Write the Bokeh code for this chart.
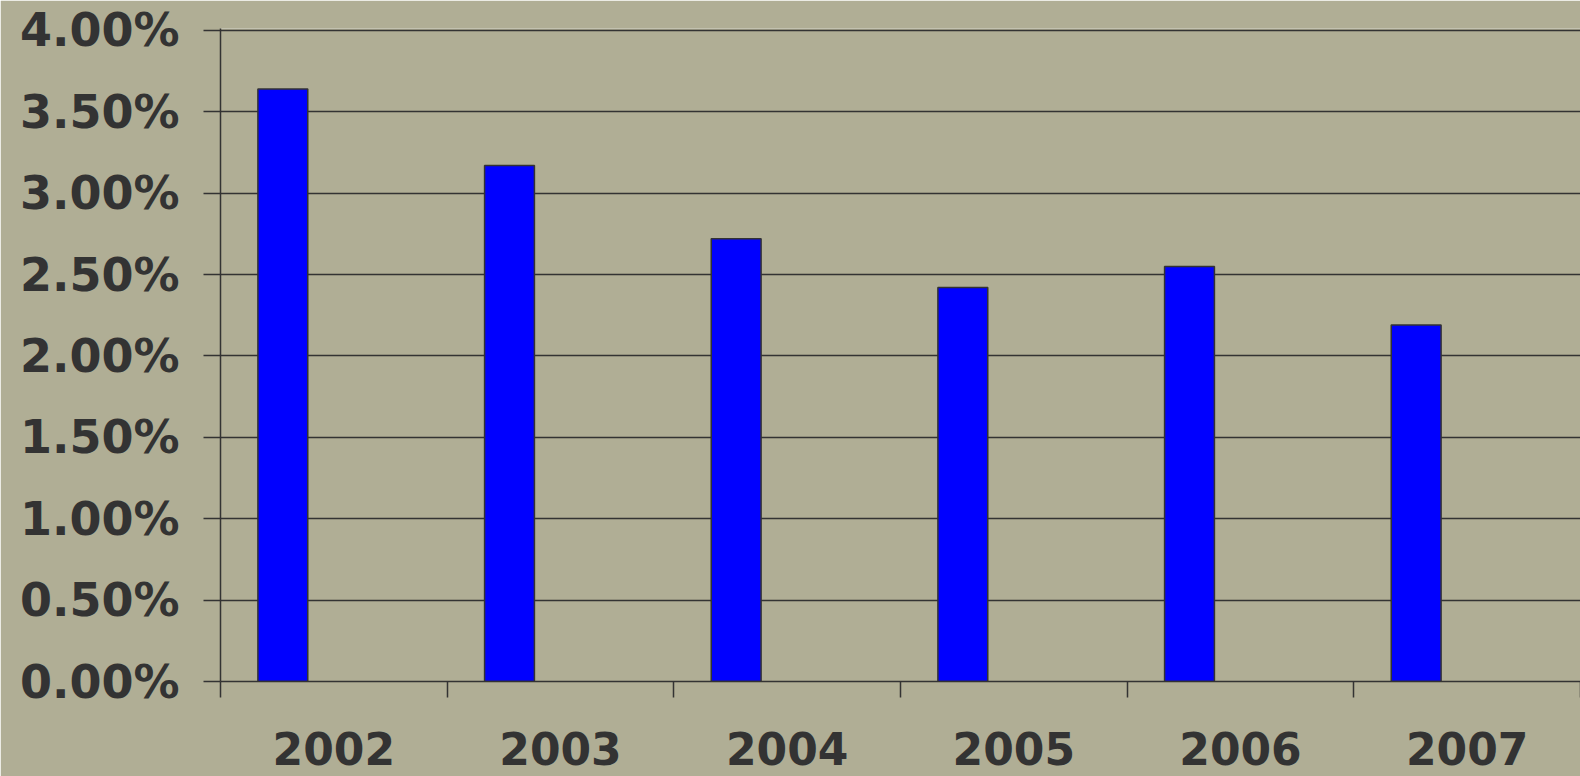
from bokeh.plotting import figure
from bokeh.models import FixedTicker, NumeralTickFormatter, Range1d, ColumnDataSource
from bokeh.transform import dodge
from bokeh.embed import file_html
from bokeh.resources import INLINE

# data
years = ["2002", "2003", "2004", "2005", "2006", "2007"]
rates = [0.0364, 0.0317, 0.0272, 0.0242, 0.0255, 0.0219]
y_ticks = [0.0, 0.005, 0.01, 0.015, 0.02, 0.025, 0.03, 0.035, 0.04]

xpos = [i + 0.5 for i in range(len(years))]
source = ColumnDataSource(dict(x=xpos, rate=rates, year=years))

BG = "#b0ae95"
INK = "#333333"

p = figure(width=1580, height=776, output_backend="svg", toolbar_location=None,
           x_range=Range1d(0, 6), y_range=Range1d(0, 0.04012),
           min_border_left=220, min_border_top=28, min_border_right=0,
           min_border_bottom=95)
p.background_fill_color = BG
p.border_fill_color = BG
p.outline_line_color = None

p.vbar(x=dodge("x", -0.225, range=p.x_range), top="rate", width=0.22, bottom=0,
       source=source, fill_color="#0000ff", line_color=INK, line_width=1.5)

# y axis
p.yaxis.ticker = FixedTicker(ticks=y_ticks)
p.yaxis.formatter = NumeralTickFormatter(format="0.00%")
p.yaxis.major_label_text_font = "DejaVu Sans"
p.yaxis.major_label_text_font_style = "bold"
p.yaxis.major_label_text_font_size = "46px"
p.yaxis.major_label_text_color = INK
p.yaxis.major_label_standoff = 24
p.yaxis.major_tick_out = 17
p.yaxis.major_tick_in = 0
p.yaxis.minor_tick_out = 0
p.yaxis.minor_tick_in = 0
p.yaxis.axis_line_color = INK
p.yaxis.axis_line_width = 1.5
p.yaxis.major_tick_line_color = INK
p.yaxis.major_tick_line_width = 1.5

# x axis: labels at category centres, tick marks at category boundaries
p.xaxis.ticker = FixedTicker(ticks=xpos, minor_ticks=list(range(len(years) + 1)))
p.xaxis.major_label_overrides = {x: y for x, y in zip(xpos, years)}
p.xaxis.major_label_text_font = "DejaVu Sans"
p.xaxis.major_label_text_font_style = "bold"
p.xaxis.major_label_text_font_size = "44px"
p.xaxis.major_label_text_color = INK
p.xaxis.major_label_standoff = 34
p.xaxis.major_tick_out = 0
p.xaxis.major_tick_in = 0
p.xaxis.minor_tick_out = 16
p.xaxis.minor_tick_in = 0
p.xaxis.minor_tick_line_color = INK
p.xaxis.minor_tick_line_width = 1.5
p.xaxis.axis_line_color = INK
p.xaxis.axis_line_width = 1.5

p.xgrid.grid_line_color = None
p.ygrid.ticker = FixedTicker(ticks=y_ticks)
p.ygrid.grid_line_color = INK
p.ygrid.grid_line_width = 1.5

open("out.html", "w").write(file_html(p, INLINE))
